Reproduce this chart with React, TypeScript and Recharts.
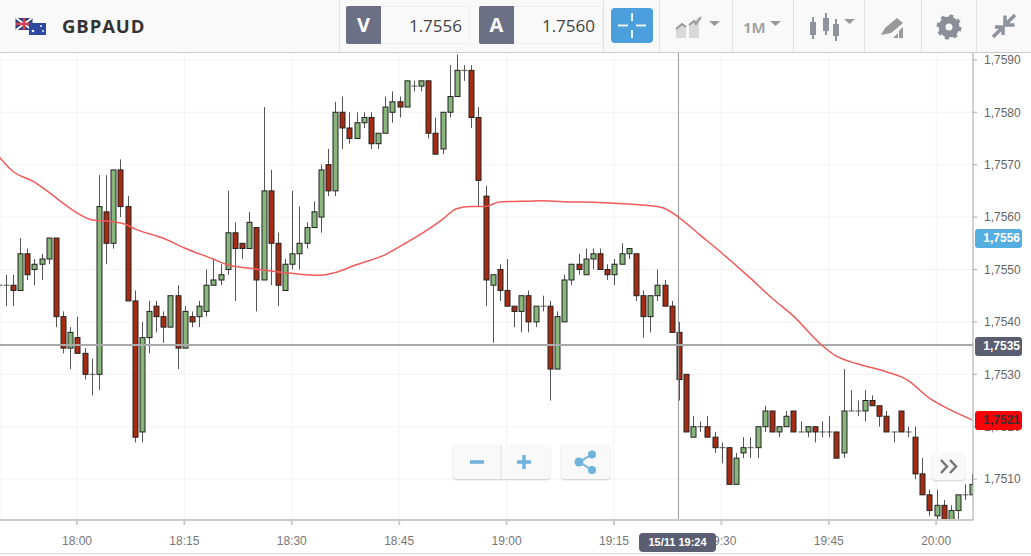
import { Bar, CartesianGrid, ComposedChart, Line, ReferenceLine, XAxis, YAxis } from "recharts";

// one candle per minute, index 0 = 17:49
const opens = [
  1.7547, 1.7547, 1.7547, 1.7546, 1.7553, 1.755, 1.7551, 1.7552, 1.7556, 1.7541,
  1.7535, 1.7537, 1.7534, 1.753, 1.753, 1.7561, 1.7555, 1.7569, 1.7562, 1.7544,
  1.7519, 1.7537, 1.7543, 1.7541, 1.7539, 1.7545, 1.7535, 1.7541, 1.7541, 1.7542,
  1.7547, 1.7548, 1.755, 1.7557, 1.7555, 1.7554, 1.7558, 1.7548, 1.7565, 1.7555,
  1.7546, 1.7551, 1.7553, 1.7555, 1.7558, 1.756, 1.757, 1.7565, 1.758, 1.7577,
  1.7575, 1.7578, 1.7579, 1.7574, 1.7576, 1.758, 1.7582, 1.7581, 1.7585, 1.7585,
  1.7586, 1.7576, 1.7573, 1.758, 1.7583, 1.7588, 1.7588, 1.7579, 1.7564, 1.7547,
  1.755, 1.7546, 1.7543, 1.7542, 1.7545, 1.754, 1.7543, 1.7543, 1.7531, 1.754,
  1.7548, 1.7551, 1.7549, 1.7552, 1.7553, 1.755, 1.7549, 1.7551, 1.7553, 1.7553,
  1.7545, 1.7541, 1.7545, 1.7547, 1.7543, 1.7538, 1.753, 1.7518, 1.752, 1.752,
  1.7518, 1.7516, 1.7516, 1.7509, 1.7515, 1.7516, 1.7516, 1.752, 1.7523, 1.7519,
  1.752, 1.7523, 1.7519, 1.7519, 1.752, 1.7519, 1.7519, 1.7519, 1.7515, 1.7523,
  1.7523, 1.7523, 1.7525, 1.7524, 1.7522, 1.7519, 1.7523, 1.7519, 1.7518, 1.7511,
  1.7507, 1.7503, 1.7505, 1.7502, 1.7504, 1.7507, 1.7507,
];
const closes = [
  1.7547, 1.7547, 1.7546, 1.7553, 1.7549, 1.7551, 1.7552, 1.7556, 1.7541, 1.7535,
  1.7538, 1.7534, 1.753, 1.753, 1.7562, 1.7555, 1.7569, 1.7562, 1.7544, 1.7518,
  1.7537, 1.7542, 1.7541, 1.7539, 1.7545, 1.7535, 1.7542, 1.754, 1.7543, 1.7547,
  1.7548, 1.7549, 1.7557, 1.7554, 1.7554, 1.7559, 1.7548, 1.7565, 1.7555, 1.7547,
  1.7551, 1.7553, 1.7555, 1.7558, 1.7561, 1.7569, 1.7565, 1.758, 1.7577, 1.7575,
  1.7578, 1.7579, 1.7574, 1.7576, 1.7581, 1.7582, 1.7581, 1.7586, 1.7585, 1.7586,
  1.7576, 1.7572, 1.758, 1.7583, 1.7588, 1.7588, 1.7579, 1.7567, 1.7548, 1.7549,
  1.7546, 1.7543, 1.7542, 1.7545, 1.754, 1.7543, 1.7543, 1.7531, 1.7541, 1.7548,
  1.7551, 1.755, 1.7552, 1.7553, 1.755, 1.7549, 1.7551, 1.7553, 1.7554, 1.7545,
  1.7541, 1.7545, 1.7547, 1.7543, 1.7538, 1.7529, 1.7519, 1.752, 1.752, 1.7518,
  1.7516, 1.7516, 1.7509, 1.7514, 1.7516, 1.7516, 1.752, 1.7523, 1.7519, 1.752,
  1.7522, 1.7519, 1.7519, 1.752, 1.7519, 1.7519, 1.7519, 1.7514, 1.7523, 1.7523,
  1.7523, 1.7525, 1.7524, 1.7522, 1.7519, 1.7519, 1.7519, 1.7519, 1.7511, 1.7507,
  1.7504, 1.7505, 1.7502, 1.7504, 1.7507, 1.7507, 1.7509,
];
const highs = [
  1.7555, 1.7549, 1.7549, 1.7556, 1.7554, 1.7552, 1.7553, 1.7556, 1.7556, 1.7542,
  1.7539, 1.7541, 1.7535, 1.7533, 1.7568, 1.7568, 1.7569, 1.7571, 1.7564, 1.7546,
  1.754, 1.7544, 1.7544, 1.7542, 1.7545, 1.7547, 1.7543, 1.7542, 1.7544, 1.755,
  1.7552, 1.7551, 1.7565, 1.7559, 1.7555, 1.7561, 1.7558, 1.7581, 1.7569, 1.7557,
  1.7552, 1.7565, 1.7562, 1.7559, 1.7563, 1.757, 1.7573, 1.7582, 1.7583, 1.758,
  1.758, 1.758, 1.758, 1.7576, 1.7583, 1.7584, 1.7583, 1.7586, 1.7586, 1.7586,
  1.7586, 1.7579, 1.758, 1.7589, 1.7591, 1.7589, 1.7589, 1.7581, 1.7566, 1.7549,
  1.7551, 1.7552, 1.7543, 1.7545, 1.7546, 1.7543, 1.7545, 1.7544, 1.7542, 1.7549,
  1.7551, 1.7553, 1.7554, 1.7554, 1.7554, 1.7551, 1.7552, 1.7555, 1.7554, 1.7553,
  1.7546, 1.7545, 1.755, 1.7548, 1.7544, 1.754, 1.753, 1.7522, 1.7521, 1.7522,
  1.7519, 1.7517, 1.7516, 1.7515, 1.7518, 1.7518, 1.752, 1.7524, 1.7523, 1.752,
  1.7523, 1.7523, 1.7521, 1.752, 1.752, 1.7521, 1.7522, 1.7519, 1.7531, 1.7527,
  1.7525, 1.7527, 1.7526, 1.7524, 1.7523, 1.7519, 1.7523, 1.752, 1.752, 1.7514,
  1.7508, 1.7508, 1.7506, 1.7505, 1.7507, 1.7509, 1.7511,
];
const lows = [
  1.7547, 1.7543, 1.7543, 1.7546, 1.7548, 1.7547, 1.7548, 1.7551, 1.7539, 1.7534,
  1.7531, 1.7534, 1.7529, 1.7526, 1.7527, 1.7551, 1.7554, 1.756, 1.7544, 1.7517,
  1.7517, 1.7534, 1.7538, 1.7536, 1.7539, 1.7531, 1.7535, 1.7539, 1.7539, 1.7541,
  1.7547, 1.7547, 1.7549, 1.7544, 1.7552, 1.7554, 1.7542, 1.7548, 1.7547, 1.7543,
  1.7546, 1.755, 1.755, 1.7554, 1.7558, 1.7557, 1.7564, 1.7564, 1.7573, 1.7574,
  1.7575, 1.7577, 1.7573, 1.7573, 1.7576, 1.7578, 1.7579, 1.7581, 1.7584, 1.7584,
  1.7575, 1.7572, 1.7572, 1.7579, 1.7583, 1.7586, 1.7577, 1.7562, 1.7543, 1.7536,
  1.7544, 1.7543, 1.7539, 1.7538, 1.7538, 1.7539, 1.7542, 1.7525, 1.7531, 1.754,
  1.7547, 1.7549, 1.7549, 1.755, 1.755, 1.7548, 1.7547, 1.7551, 1.7552, 1.7544,
  1.7537, 1.7538, 1.7544, 1.7543, 1.7538, 1.7525, 1.7519, 1.7518, 1.7519, 1.7518,
  1.7515, 1.7513, 1.7509, 1.7509, 1.7514, 1.7514, 1.7514, 1.7519, 1.7519, 1.7518,
  1.752, 1.7519, 1.7519, 1.7518, 1.7517, 1.7518, 1.7518, 1.7514, 1.7514, 1.7523,
  1.7522, 1.7521, 1.7524, 1.752, 1.7519, 1.7517, 1.7519, 1.7518, 1.751, 1.7507,
  1.7503, 1.7502, 1.7502, 1.7502, 1.7502, 1.7506, 1.7507,
];

const maIndexes = [
  0, 2, 5, 7, 9, 11, 13, 16, 18, 19, 23, 26, 30, 32, 36, 40, 43, 45, 47, 50,
  54, 57, 60, 62, 64, 66, 68, 70, 73, 76, 80, 84, 88, 92, 93, 95, 98, 101, 105, 108,
  111, 115, 117, 120, 124, 127, 130, 133, 136,
];
const maValues = [
  1.75717, 1.75688, 1.75667, 1.75648, 1.75627, 1.75608, 1.75595, 1.75591, 1.75585, 1.75578,
  1.7556, 1.75541, 1.7552, 1.75509, 1.75501, 1.75494, 1.7549, 1.75489, 1.75494, 1.75509,
  1.75528, 1.75551, 1.75576, 1.75595, 1.75616, 1.7562, 1.7562, 1.75629, 1.7563, 1.75631,
  1.75629, 1.75628, 1.75625, 1.7562, 1.75617, 1.756, 1.75566, 1.75532, 1.75484, 1.75446,
  1.75412, 1.75356, 1.75335, 1.7532, 1.75305, 1.75289, 1.75255, 1.75232, 1.75213,
];

const priceTicks = [1.751, 1.752, 1.753, 1.754, 1.755, 1.756, 1.757, 1.758, 1.759];
const timeIndexes = [11, 26, 41, 56, 71, 86, 101, 116, 131];
const timeLabels = ["18:00", "18:15", "18:30", "18:45", "19:00", "19:15", "19:30", "19:45", "20:00"];

// crosshair sits on the mouse position, a bit above the price its tag shows
const CROSS_LINE = 1.75356;
const CROSS_INDEX = 95;

const candles = opens.map((open, i) => {
  const maAt = maIndexes.indexOf(i);
  return {
    t: i,
    open,
    close: closes[i],
    high: highs[i],
    low: lows[i],
    ma: maAt >= 0 ? maValues[maAt] : null,
  };
});

const fmtPrice = (v: number) => v.toFixed(4).replace(".", ",");
const fmtTime = (v: number) => timeLabels[timeIndexes.indexOf(v)] ?? "";

const Candle = (props: any) => {
  const { x, y, width, height, payload } = props;
  const cx = Math.round(x + width / 2) + 0.5;
  const perUnit = height / (payload.high - payload.low);
  const yOf = (p: number) => y + (payload.high - p) * perUnit;
  const up = payload.close >= payload.open;
  const top = yOf(Math.max(payload.open, payload.close));
  const bottom = yOf(Math.min(payload.open, payload.close));
  if (payload.open === payload.close) {
    return (
      <g>
        <line x1={cx} x2={cx} y1={y} y2={y + height} stroke="#555" />
        <line x1={cx - 3} x2={cx + 3} y1={top} y2={top} stroke="#555" />
      </g>
    );
  }
  return (
    <g>
      <line x1={cx} x2={cx} y1={y} y2={y + height} stroke="#555" />
      <rect
        x={cx - 2.5}
        y={top}
        width={5}
        height={bottom - top}
        fill={up ? "#87b57a" : "#a52c12"}
        stroke="#222"
      />
    </g>
  );
};

// tags sit on top of the axis texts, as in the platform
const PriceTag = ({ top, text, bg, color }: { top: number; text: string; bg: string; color: string }) => (
  <div
    style={{
      position: "absolute",
      left: 975,
      top,
      width: 47,
      height: 19,
      background: bg,
      color,
      borderRadius: 3,
      fontFamily: "Liberation Sans",
      fontSize: 12,
      fontWeight: 700,
      lineHeight: "19px",
      textAlign: "right",
      paddingRight: 2,
      boxSizing: "border-box",
      zIndex: 2,
    }}
  >
    {text}
  </div>
);

const Sep = ({ x }: { x: number }) => (
  <div style={{ position: "absolute", left: x, top: 0, width: 1, height: 52, background: "#e2e2e2" }} />
);

const QuoteBox = ({ x, letter, value }: { x: number; letter: string; value: string }) => (
  <div
    style={{
      position: "absolute",
      left: x,
      top: 6,
      width: 124,
      height: 38,
      background: "#f9f9f9",
      border: "1px solid #eee",
      boxSizing: "border-box",
      borderRadius: 2,
    }}
  >
    <div
      style={{
        position: "absolute",
        left: -1,
        top: -1,
        width: 35,
        height: 38,
        background: "#6b7084",
        color: "#fff",
        fontWeight: 700,
        fontSize: 20,
        lineHeight: "38px",
        textAlign: "center",
        borderRadius: "2px 0 0 2px",
      }}
    >
      {letter}
    </div>
    <div style={{ position: "absolute", right: 7, top: 0, lineHeight: "37px", fontSize: 17, color: "#444" }}>
      {value}
    </div>
  </div>
);

const Toolbar = () => (
  <div
    style={{
      position: "absolute",
      left: 0,
      top: 0,
      width: 1031,
      height: 53,
      background: "#f9f9f9",
      borderBottom: "1px solid #ccc",
      boxSizing: "border-box",
      fontFamily: "Open Sans",
      zIndex: 2,
    }}
  >
    <svg style={{ position: "absolute", left: 15, top: 18 }} width={32} height={17}>
      <rect x={0.5} y={0} width={17} height={12} fill="#2b3f86" />
      <path d="M1 0L17 12M17 0L1 12" stroke="#fff" strokeWidth={2} />
      <path d="M9 0V12M1 6H17" stroke="#d8404f" strokeWidth={2.5} />
      <rect x={14} y={5} width={17} height={12} fill="#2f49a0" />
      <circle cx={18} cy={13} r={1.3} fill="#fff" />
      <circle cx={26} cy={8} r={0.9} fill="#fff" />
      <circle cx={28} cy={13} r={0.9} fill="#fff" />
    </svg>
    <div
      style={{
        position: "absolute",
        left: 62,
        top: 0,
        lineHeight: "52px",
        fontSize: 18.5,
        fontWeight: 700,
        letterSpacing: 0.9,
        color: "#333",
      }}
    >
      GBPAUD
    </div>
    <Sep x={339} />
    <QuoteBox x={346} letter="V" value="1.7556" />
    <QuoteBox x={479} letter="A" value="1.7560" />
    <Sep x={603} />
    <div style={{ position: "absolute", left: 611, top: 8, width: 42, height: 35, background: "#4a9fdc", borderRadius: 4 }}>
      <svg width={42} height={35}>
        <path d="M7 17.5H17M25 17.5H35M21 5V13M21 22V30" stroke="#e8f3fb" strokeWidth={2} />
      </svg>
    </div>
    <Sep x={659} />
    <svg style={{ position: "absolute", left: 672, top: 14 }} width={50} height={26}>
      <path d="M4 24V14L10 9L14 13V24Z" fill="#d9d9d9" />
      <path d="M17 24V11L27 3V24Z" fill="#d9d9d9" />
      <path d="M4 15L10 10L14 13M17 11L22 7L24 10L29 3" stroke="#999" strokeWidth={2} fill="none" />
      <path d="M37 7H48L42.5 12Z" fill="#999" />
    </svg>
    <Sep x={732} />
    <div style={{ position: "absolute", left: 743, top: 17, fontSize: 15, fontWeight: 700, lineHeight: "20px", color: "#a5a5a5" }}>
      1M
    </div>
    <svg style={{ position: "absolute", left: 769, top: 20 }} width={14} height={8}>
      <path d="M1 1H12L6.5 6Z" fill="#999" />
    </svg>
    <Sep x={793} />
    <svg style={{ position: "absolute", left: 808, top: 12 }} width={50} height={30}>
      <path d="M5 5V27M18 1V23M28 7V29" stroke="#8f939b" strokeWidth={2} />
      <rect x={2} y={10} width={6} height={13} fill="#8f939b" />
      <rect x={15} y={6} width={6} height={13} fill="#8f939b" />
      <rect x={25} y={12} width={6} height={12} fill="#8f939b" />
      <path d="M36 7H47L41.5 12Z" fill="#999" />
    </svg>
    <Sep x={864} />
    <svg style={{ position: "absolute", left: 880, top: 16 }} width={26} height={24}>
      <path d="M1 19L5 12L17 2L23 7L11 17Z" fill="#999" />
      <path d="M13 22L18 17V22ZM19 22V15L23 11V22Z" fill="#999" />
    </svg>
    <Sep x={921} />
    <svg style={{ position: "absolute", left: 936, top: 14 }} width={26} height={26}>
      <circle cx={13} cy={13} r={7} fill="none" stroke="#8b8f97" strokeWidth={7} />
      <circle cx={13} cy={13} r={11} fill="none" stroke="#8b8f97" strokeWidth={3} strokeDasharray="4 4.64" />
    </svg>
    <Sep x={976} />
    <svg style={{ position: "absolute", left: 990, top: 12 }} width={28} height={28}>
      <path d="M3 25L11 17M5 15H13V23" stroke="#8f939b" strokeWidth={3.5} fill="none" />
      <path d="M25 3L17 11M15 3.5V13H24.5" stroke="#8f939b" strokeWidth={3.5} fill="none" />
    </svg>
  </div>
);

const btn = {
  position: "absolute" as const,
  background: "#f9f9f9",
  borderRadius: 4,
  boxShadow: "0 1px 2px rgba(0,0,0,0.18)",
  zIndex: 2,
};

const Overlays = () => (
  <>
    <div style={{ ...btn, left: 453, top: 445, width: 97, height: 34 }}>
      <svg width={97} height={34}>
        <path d="M48 0V34" stroke="#ddd" />
        <path d="M17 17H31M64 17H78M71 10V24" stroke="#6fb3dd" strokeWidth={3.5} />
      </svg>
    </div>
    <div style={{ ...btn, left: 561, top: 445, width: 49, height: 34 }}>
      <svg width={49} height={34}>
        <path d="M18 17L31 9.5M18 17L31 25" stroke="#6fb3dd" strokeWidth={2} />
        <circle cx={18} cy={17} r={4.5} fill="#6fb3dd" />
        <circle cx={31} cy={9.5} r={4} fill="#6fb3dd" />
        <circle cx={31} cy={25} r={4} fill="#6fb3dd" />
      </svg>
    </div>
    <div style={{ ...btn, left: 932, top: 453, width: 33, height: 27 }}>
      <svg width={33} height={27}>
        <path d="M9 7L15 13.5L9 20M18 7L24 13.5L18 20" stroke="#777" strokeWidth={2.5} fill="none" />
      </svg>
    </div>
    <PriceTag top={229} text="1,7556" bg="#55aee0" color="#fff" />
    <PriceTag top={337} text="1,7535" bg="#5a5e70" color="#fff" />
    <PriceTag top={411} text="1,7521" bg="#fb0006" color="#333" />
    <div
      style={{
        position: "absolute",
        left: 639,
        top: 533,
        width: 77,
        height: 19,
        background: "#5a5e70",
        color: "#fff",
        borderRadius: 4,
        fontFamily: "Liberation Sans",
        fontSize: 11,
        fontWeight: 700,
        lineHeight: "19px",
        textAlign: "center",
        zIndex: 2,
      }}
    >
      15/11 19:24
    </div>
    <div
      style={{
        position: "absolute",
        left: 0,
        top: 553,
        width: 1031,
        height: 3,
        background: "#f9f9f9",
        borderTop: "1px solid #ddd",
      }}
    />
  </>
);

export default function App() {
  return (
    <div
      style={{
        position: "fixed",
        left: 0,
        top: 0,
        width: 1031,
        height: 556,
        background: "#fff",
        overflow: "hidden",
      }}
    >
      <ComposedChart
        width={1031}
        height={556}
        data={candles}
        margin={{ top: 52, right: 0, bottom: 0, left: 0 }}
        barSize={6}
      >
        <CartesianGrid stroke="#f3f3f3" />
        <XAxis
          dataKey="t"
          type="number"
          domain={[0.25, 136.14]}
          allowDataOverflow
          ticks={timeIndexes}
          tickFormatter={fmtTime}
          interval={0}
          height={36}
          tickSize={5}
          tickMargin={11}
          stroke="#ccc"
          strokeWidth={2}
          tick={{ fontSize: 12, fill: "#777", fontFamily: "Liberation Sans", strokeWidth: 0 }}
        />
        <YAxis
          orientation="right"
          type="number"
          domain={[1.75022, 1.75915]}
          allowDataOverflow
          ticks={priceTicks}
          tickFormatter={fmtPrice}
          interval={0}
          width={58}
          tickSize={4}
          tickMargin={7}
          stroke="#aaa"
          tick={{ fontSize: 12, fill: "#666", fontFamily: "Liberation Sans" }}
        />
        <ReferenceLine y={CROSS_LINE} stroke="#aaa" strokeWidth={2} />
        <ReferenceLine x={CROSS_INDEX} stroke="#999" />
        <Bar dataKey={(d: any) => [d.low, d.high]} shape={Candle} isAnimationActive={false} />
        <Line
          dataKey="ma"
          type="monotone"
          stroke="#ef5b5b"
          strokeWidth={1.5}
          dot={false}
          activeDot={false}
          connectNulls
          isAnimationActive={false}
        />
      </ComposedChart>
      <Toolbar />
      <Overlays />
    </div>
  );
}
